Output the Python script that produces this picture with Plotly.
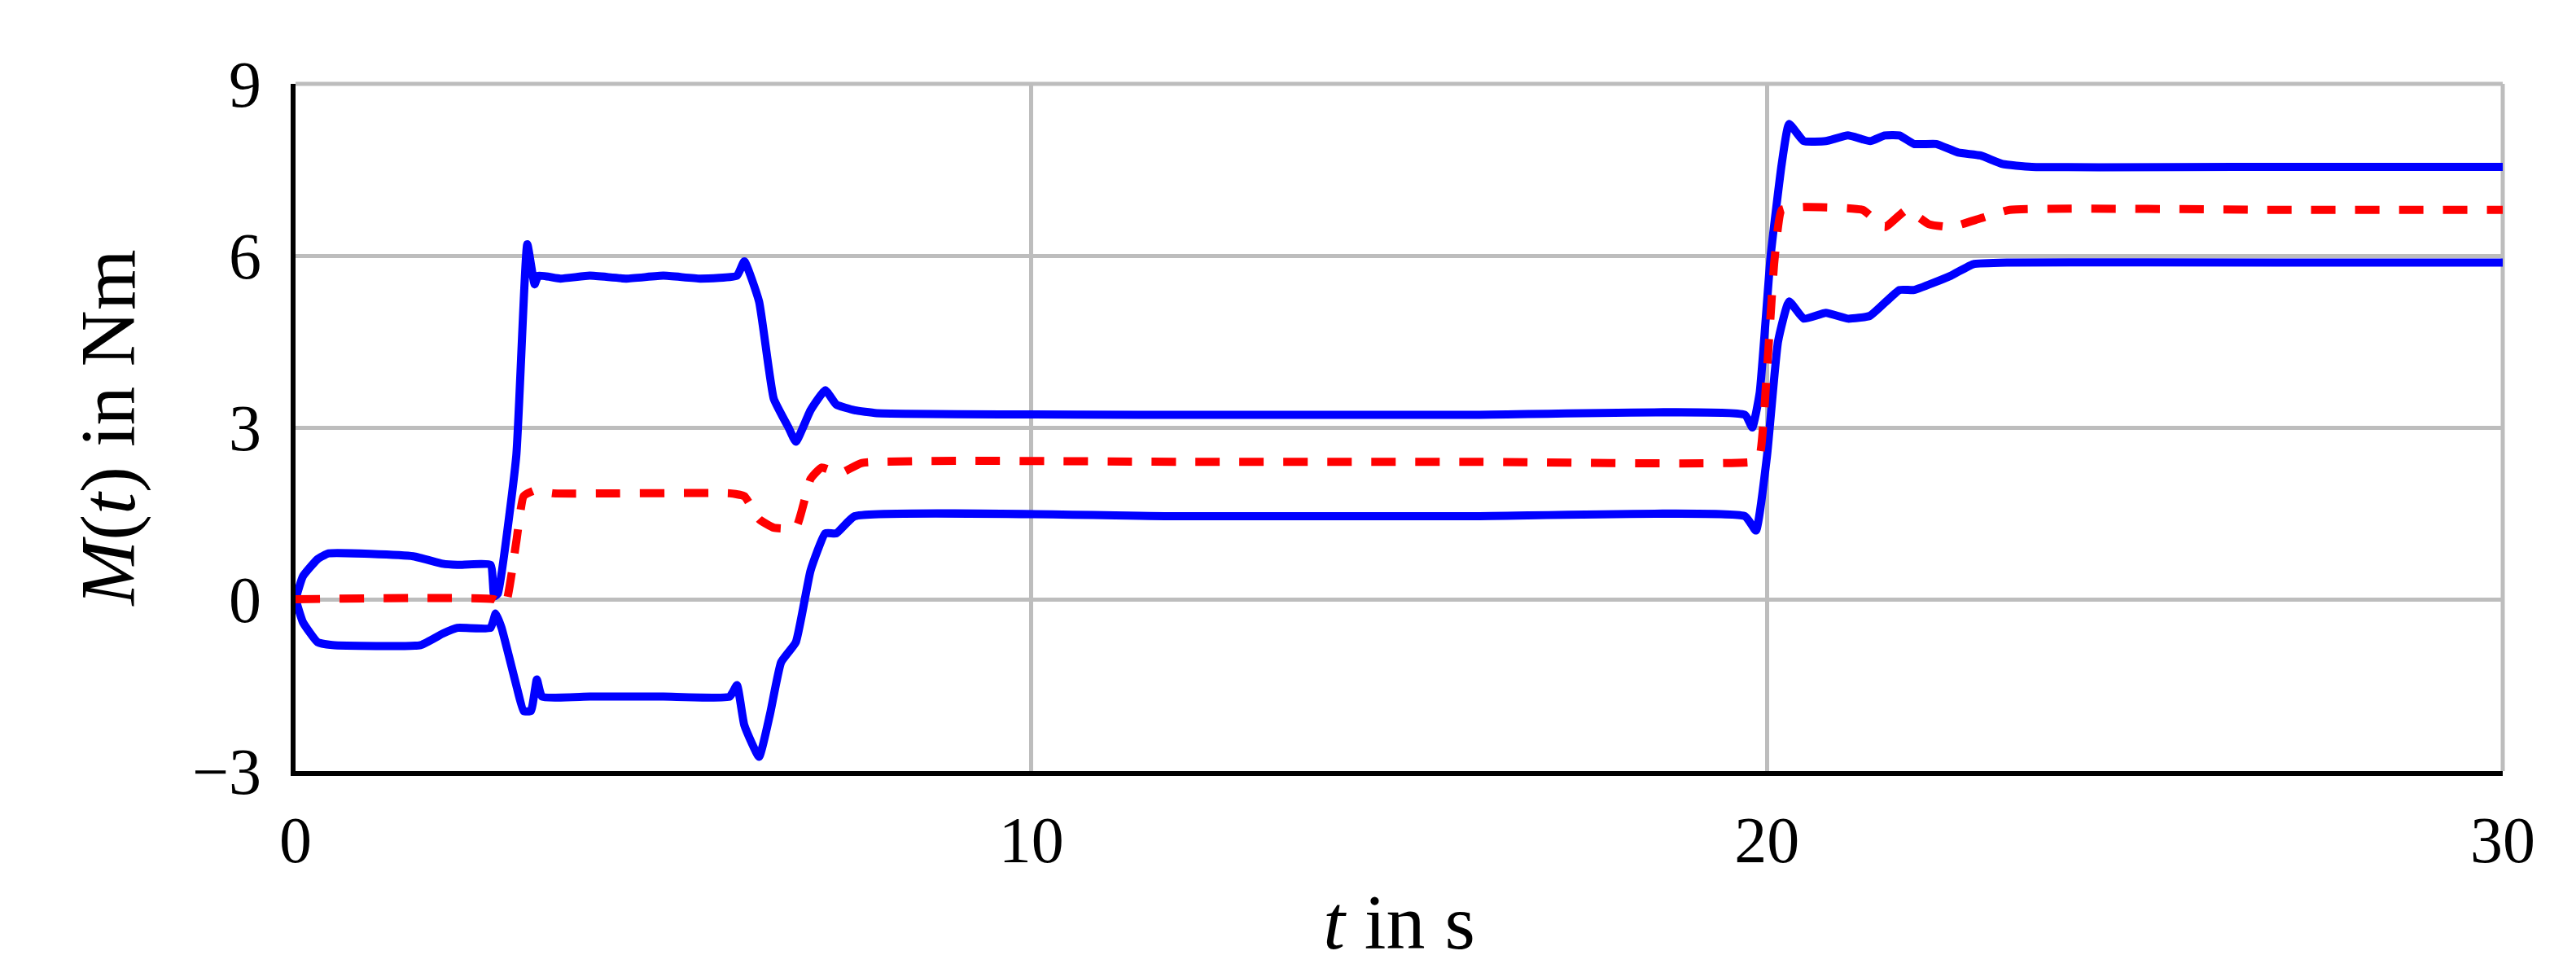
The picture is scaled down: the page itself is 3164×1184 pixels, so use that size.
import plotly.graph_objects as go

# upper envelope (blue)
t_upper = [0, 0.1, 0.3, 0.45, 1.6, 2.0, 2.2, 2.65, 2.7, 2.75, 3.0, 3.15, 3.25, 3.3, 3.6, 4.0, 4.5, 5.0, 5.5, 6.0,
           6.1, 6.3, 6.5, 6.7, 6.8, 7.0, 7.2, 7.35, 7.6, 7.9, 12.0, 16.0, 19.7, 19.8, 19.9, 20.05, 20.2, 20.3,
           20.5, 20.8, 21.1, 21.4, 21.6, 21.8, 22.0, 22.3, 22.6, 22.9, 23.2, 23.6, 27.0, 30.0]
m_upper = [0, 0.4, 0.7, 0.8, 0.75, 0.62, 0.6, 0.6, 0.05, 0.1, 2.5, 6.2, 5.5, 5.65, 5.6, 5.65, 5.6, 5.65, 5.6, 5.65,
           5.9, 5.2, 3.5, 3.0, 2.75, 3.3, 3.65, 3.4, 3.3, 3.25, 3.22, 3.22, 3.22, 3.0, 3.6, 6.0, 7.6, 8.3,
           8.0, 8.0, 8.1, 8.0, 8.1, 8.1, 7.95, 7.95, 7.8, 7.75, 7.6, 7.55, 7.55, 7.55]

# lower envelope (blue)
t_lower = [0, 0.1, 0.3, 0.5, 1.7, 2.0, 2.2, 2.65, 2.72, 2.8, 3.0, 3.1, 3.2, 3.28, 3.35, 4.0, 5.0, 5.9, 6.0,
           6.1, 6.3, 6.45, 6.6, 6.8, 7.0, 7.2, 7.35, 7.6, 12.0, 16.0, 19.7, 19.85, 20.0, 20.15, 20.3, 20.5,
           20.8, 21.1, 21.4, 21.8, 22.0, 22.5, 22.8, 23.3, 27.0, 30.0]
m_lower = [0, -0.4, -0.75, -0.8, -0.8, -0.6, -0.5, -0.5, -0.25, -0.5, -1.5, -1.95, -1.95, -1.4, -1.7, -1.7, -1.7,
           -1.7, -1.5, -2.2, -2.75, -2.0, -1.1, -0.75, 0.5, 1.15, 1.15, 1.45, 1.45, 1.45, 1.45, 1.2, 2.5, 4.5,
           5.2, 4.9, 5.0, 4.9, 4.95, 5.4, 5.4, 5.65, 5.85, 5.88, 5.88, 5.88]

# nominal torque (red dashed)
t_nom = [0, 2.7, 2.85, 3.0, 3.1, 3.25, 3.5, 5.9, 6.1, 6.3, 6.5, 6.8, 7.0, 7.15, 7.4, 7.7, 12.0, 16.0, 19.8,
         19.9, 20.0, 20.1, 20.2, 20.5, 21.3, 21.6, 21.9, 22.2, 22.5, 22.9, 23.3, 27.0, 30.0]
m_nom = [0, 0, -0.1, 1.0, 1.8, 1.9, 1.85, 1.85, 1.8, 1.4, 1.25, 1.25, 2.1, 2.3, 2.2, 2.38, 2.4, 2.4, 2.4,
         2.5, 4.0, 5.9, 6.8, 6.85, 6.8, 6.5, 6.8, 6.55, 6.5, 6.65, 6.8, 6.8, 6.8]

x_ticks = [0, 10, 20, 30]
y_ticks = [-3, 0, 3, 6, 9]

FONT = "Liberation Serif"
BLUE = "#0000ff"
RED = "#ff0000"
GRID = "#bdbdbd"

fig = go.Figure()
fig.add_trace(go.Scatter(x=t_upper, y=m_upper, mode="lines",
                         line=dict(color=BLUE, width=10, shape="spline", smoothing=0.4)))
fig.add_trace(go.Scatter(x=t_lower, y=m_lower, mode="lines",
                         line=dict(color=BLUE, width=10, shape="spline", smoothing=0.4)))
fig.add_trace(go.Scatter(x=t_nom, y=m_nom, mode="lines",
                         line=dict(color=RED, width=10, dash="30px,24px", shape="spline", smoothing=0.4)))

# grey top and right frame like the gridlines
fig.add_shape(type="line", xref="paper", yref="paper", x0=0, x1=1, y0=1, y1=1,
              line=dict(color=GRID, width=5), layer="below")
fig.add_shape(type="line", xref="paper", yref="paper", x0=1, x1=1, y0=0, y1=1,
              line=dict(color=GRID, width=5), layer="below")

fig.update_xaxes(
    range=[0, 30], tickvals=x_ticks, showgrid=True, gridcolor=GRID, gridwidth=5,
    showline=True, linecolor="black", linewidth=6, zeroline=False,
    ticks="", ticklabelstandoff=10,
    title=dict(text="<i>t</i> in s", standoff=25),
)
fig.update_yaxes(
    range=[-3, 9], tickvals=y_ticks, showgrid=True, gridcolor=GRID, gridwidth=5,
    showline=True, linecolor="black", linewidth=6, zeroline=False,
    ticks="", ticklabelstandoff=20,
    title=dict(text="<i>M</i>(<i>t</i>) in Nm", standoff=40),
)
fig.update_layout(
    width=3164, height=1184,
    margin=dict(l=355, r=98, t=95, b=245),
    plot_bgcolor="white", paper_bgcolor="white",
    font=dict(family=FONT, size=80, color="black"),
    showlegend=False,
)
fig.write_html("out.html")
